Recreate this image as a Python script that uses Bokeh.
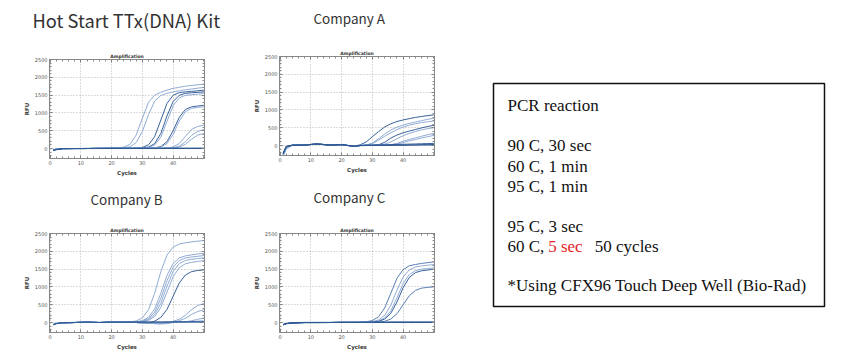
from bokeh.plotting import figure
from bokeh.layouts import row, column
from bokeh.models import Range1d, Title, LinearAxis, FixedTicker, Label
from bokeh.embed import file_html
from bokeh.resources import INLINE

# ---------------- data ----------------
cycles = [1, 2, 4, 8, 12, 16, 20, 24, 26, 28, 30, 32, 34, 36, 38, 40, 42, 44, 46, 48, 50]
x_ticks = [0, 10, 20, 30, 40]
y_ticks = [0, 500, 1000, 1500, 2000, 2500]

panel_titles = ["Hot Start TTx(DNA) Kit", "Company A", "Company B", "Company C"]
inner_title = "Amplification"
x_label = "Cycles"
y_label = "RFU"

# Hot Start TTx(DNA) Kit
hs_1 = [-40, -20, 0, 0, 0, 5, 10, 40, 120, 380, 850, 1300, 1500, 1580, 1640, 1690, 1720, 1750, 1770, 1790, 1810]
hs_2 = [-40, -20, 0, 0, 0, 5, 10, 15, 50, 170, 480, 950, 1330, 1490, 1550, 1590, 1620, 1650, 1670, 1695, 1715]
hs_3 = [-40, -20, 0, 0, 0, 5, 5, 5, 5, 10, 29, 104, 334, 800, 1266, 1496, 1571, 1590, 1605, 1620, 1640]
hs_4 = [-40, -20, 0, 0, 0, 5, 5, 5, 5, 10, 15, 40, 138, 422, 915, 1320, 1496, 1550, 1565, 1578, 1590]
hs_5 = [-40, -20, 0, 0, 0, 5, 5, 5, 5, 10, 10, 27, 99, 318, 760, 1202, 1421, 1493, 1510, 1527, 1543]
hs_6 = [-40, -20, 0, 0, 0, 5, 5, 5, 5, 5, 10, 10, 16, 56, 191, 500, 877, 1098, 1170, 1195, 1213]
hs_7 = [-40, -20, 0, 0, 0, 5, 5, 5, 5, 5, 10, 10, 15, 40, 139, 397, 773, 1031, 1130, 1155, 1170]
hs_8 = [-40, -20, 0, 0, 0, 5, 5, 5, 5, 5, 5, 10, 10, 10, 12, 44, 142, 340, 538, 620, 655]
hs_9 = [-40, -20, 0, 0, 0, 5, 5, 5, 5, 5, 5, 5, 10, 10, 10, 19, 67, 190, 370, 480, 531]
hs_10 = [-40, -20, 0, 0, 0, 5, 5, 5, 5, 5, 5, 5, 10, 10, 10, 10, 40, 121, 262, 378, 420]
hs_11 = [-50, -30, -5, 0, 0, 0, 5, 5, 5, 5, 5, 5, 5, 5, 10, 10, 10, 10, 10, 10, 10]
hs_12 = [-45, -25, -5, 0, 5, 5, 5, 5, 5, 5, 5, 5, 5, 5, 5, 5, 5, 5, 5, 5, 5]
hs_13 = [-60, -35, -10, -5, 0, 0, 0, 0, 0, 0, 0, 0, 0, 0, 0, 0, 0, 0, 0, 0, 0]
hs_curves = [hs_1, hs_2, hs_3, hs_4, hs_5, hs_6, hs_7, hs_8, hs_9, hs_10, hs_11, hs_12, hs_13]
hs_tones = ["light", "light", "dark", "dark", "light", "dark", "light", "light", "light", "light", "dark", "dark", "dark"]

# Company A
ca_1 = [-220, -30, 10, 15, 45, 15, 25, -20, 20, 100, 250, 390, 520, 610, 675, 718, 755, 790, 815, 840, 860]
ca_2 = [-280, -60, 10, 15, 40, 15, 25, -20, 0, 15, 70, 190, 320, 435, 515, 577, 620, 660, 700, 735, 767]
ca_3 = [-250, -40, 10, 15, 40, 15, 25, -20, 0, 10, 50, 150, 260, 355, 445, 520, 570, 610, 645, 670, 690]
ca_4 = [-230, -30, 10, 15, 45, 15, 25, -20, 0, 5, 5, 20, 90, 210, 295, 358, 405, 450, 495, 535, 568]
ca_5 = [-260, -50, 10, 15, 40, 15, 25, -20, 0, 5, 5, 15, 40, 100, 190, 275, 340, 395, 440, 475, 500]
ca_6 = [-270, -50, 10, 15, 40, 15, 25, -20, 0, 5, 5, 5, 15, 25, 60, 120, 170, 215, 260, 305, 341]
ca_7 = [-300, -100, 5, 15, 40, 15, 25, -20, 0, 5, 5, 5, 10, 20, 40, 85, 130, 170, 210, 250, 284]
ca_8 = [-230, -30, 10, 15, 45, 15, 25, -20, 0, 5, 5, 10, 10, 10, 15, 15, 20, 20, 25, 25, 30]
ca_9 = [-200, -20, 10, 15, 45, 15, 25, -20, 0, 10, 15, 20, 20, 25, 30, 35, 40, 45, 50, 55, 60]
ca_10 = [-240, -40, 5, 10, 40, 10, 20, -25, -5, 0, 0, 0, 0, 5, 5, 5, 10, 10, 15, 15, 20]
ca_curves = [ca_1, ca_2, ca_3, ca_4, ca_5, ca_6, ca_7, ca_8, ca_9, ca_10]
ca_tones = ["dark", "light", "light", "dark", "light", "light", "light", "dark", "dark", "dark"]

# Company B
cb_1 = [-60, -30, -10, 0, 10, 0, 10, 10, 16, 45, 130, 358, 821, 1429, 1892, 2120, 2205, 2240, 2265, 2285, 2302]
cb_2 = [-60, -30, -10, 0, 10, 0, 10, 10, 15, 25, 51, 144, 380, 819, 1324, 1662, 1815, 1872, 1900, 1925, 1945]
cb_3 = [-60, -30, -10, 0, 10, 0, 10, 10, 12, 20, 37, 107, 294, 675, 1175, 1556, 1743, 1813, 1840, 1860, 1880]
cb_4 = [-60, -30, -10, 0, 10, 0, 10, 10, 12, 18, 27, 81, 224, 542, 1019, 1432, 1654, 1743, 1775, 1795, 1815]
cb_5 = [-60, -30, -10, 0, 10, 0, 10, 10, 10, 15, 20, 58, 168, 424, 855, 1286, 1542, 1652, 1690, 1715, 1739]
cb_6 = [-60, -30, -10, 0, 10, 0, 10, 10, 5, 0, -10, -15, 40, 145, 367, 740, 1113, 1335, 1430, 1462, 1477]
cb_7 = [-60, -30, -10, 0, 10, 0, 10, 10, 5, 0, -10, -20, -30, -30, -20, 33, 91, 208, 362, 479, 536]
cb_8 = [-60, -30, -10, 0, 10, 0, 10, 10, 5, 0, -10, -20, -30, -40, -30, 10, 50, 121, 228, 310, 358]
cb_9 = [-60, -30, -10, 0, 10, 0, 10, 10, 5, 0, -10, -20, -30, -30, -20, 0, 10, 20, 50, 90, 124]
cb_10 = [-60, -30, -10, 0, 10, 0, 10, 10, 5, 0, -5, -10, -10, -10, -5, 0, 10, 20, 30, 40, 48]
cb_11 = [-60, -30, -10, 0, 10, 0, 10, 10, 10, 10, 10, 10, 10, 10, 15, 15, 15, 15, 15, 15, 15]
cb_12 = [-50, -25, -5, 5, 15, 5, 15, 15, 15, 15, 15, 15, 15, 15, 15, 20, 20, 20, 20, 20, 20]
cb_curves = [cb_1, cb_2, cb_3, cb_4, cb_5, cb_6, cb_7, cb_8, cb_9, cb_10, cb_11, cb_12]
cb_tones = ["light", "light", "light", "light", "light", "dark", "light", "light", "light", "light", "dark", "dark"]

# Company C
cc_1 = [-60, -30, -10, 0, 0, 0, 5, 5, 10, 20, 56, 162, 409, 825, 1241, 1488, 1594, 1630, 1660, 1682, 1702]
cc_2 = [-60, -30, -10, 0, 0, 0, 5, 5, 5, 10, 24, 72, 200, 485, 910, 1280, 1478, 1560, 1590, 1610, 1629]
cc_3 = [-60, -30, -10, 0, 0, 0, 5, 5, 5, 10, 15, 42, 128, 331, 696, 1094, 1348, 1456, 1499, 1518, 1534]
cc_4 = [-60, -30, -10, 0, 0, 0, 5, 5, 5, 5, 10, 32, 96, 258, 577, 978, 1266, 1402, 1453, 1475, 1497]
cc_5 = [-60, -30, -10, 0, 0, 0, 5, 5, 5, 5, 5, 12, 34, 98, 248, 500, 752, 902, 966, 988, 1000]
cc_6 = [-60, -30, -10, 0, 0, 0, 5, 5, 5, 5, 5, 5, 5, 10, 10, 10, 10, 10, 10, 10, 10]
cc_7 = [-50, -25, -5, 5, 5, 5, 10, 10, 10, 10, 10, 10, 10, 15, 15, 15, 15, 15, 15, 15, 15]
cc_8 = [-70, -35, -15, -5, -5, 0, 0, 0, 0, 0, 0, 0, 0, 0, 0, 0, 0, 0, 0, 0, 0]
cc_curves = [cc_1, cc_2, cc_3, cc_4, cc_5, cc_6, cc_7, cc_8]
cc_tones = ["mid", "light", "light", "dark", "mid", "dark", "dark", "dark"]

protocol_title = "PCR reaction"
protocol_lines = ["90 C, 30 sec", "60 C, 1 min", "95 C, 1 min", "95 C, 3 sec"]
cycle_step = ["60 C, ", "5 sec", "50 cycles"]
instrument_note = "*Using CFX96 Touch Deep Well (Bio-Rad)"

# ---------------- style ----------------
TONES = {"dark": "#2d5995", "mid": "#5077b0", "light": "#8aa7d2"}
TITLE_FONT = "Noto Sans CJK JP"
SMALL_FONT = "DejaVu Sans"
SERIF = "Liberation Serif"


def style_axis(ax, show_labels=True):
    ax.axis_line_color = "#888888"
    ax.major_tick_in = 3
    ax.major_tick_out = 0
    ax.minor_tick_in = 2
    ax.minor_tick_out = 0
    ax.major_tick_line_color = "#777777"
    ax.minor_tick_line_color = "#888888"
    if show_labels:
        ax.major_label_text_font = SMALL_FONT
        ax.major_label_text_font_size = "5px"
        ax.major_label_text_color = "#555555"
        ax.major_label_standoff = 2
        ax.axis_label_text_font = SMALL_FONT
        ax.axis_label_text_font_size = "5.5px"
        ax.axis_label_text_font_style = "bold"
        ax.axis_label_text_color = "#333333"
        ax.axis_label_standoff = 2
    else:
        ax.major_label_text_font_size = "0px"
        ax.major_label_text_color = None


def amp_panel(curves, tones, title, tsize, toffset, spacer, width, height, bleft, btop, bbottom):
    xt = FixedTicker(ticks=x_ticks, minor_ticks=list(range(0, 51, 2)))
    yt = FixedTicker(ticks=y_ticks, minor_ticks=list(range(-200, 2501, 100)))
    p = figure(width=width, height=height, x_range=Range1d(-0.2, 50.2), y_range=Range1d(-280, 2500),
               output_backend="svg", toolbar_location=None, title=None,
               min_border_left=bleft, min_border_right=34, min_border_top=btop, min_border_bottom=bbottom,
               x_axis_label=x_label, y_axis_label=y_label)
    p.xaxis.ticker = xt
    p.yaxis.ticker = yt
    p.yaxis.formatter.use_scientific = False
    for ax in p.xaxis + p.yaxis:
        style_axis(ax)
    top_ax = LinearAxis(ticker=FixedTicker(ticks=x_ticks, minor_ticks=list(range(0, 51, 2))))
    right_ax = LinearAxis(ticker=FixedTicker(ticks=y_ticks, minor_ticks=list(range(-200, 2501, 100))))
    style_axis(top_ax, False)
    style_axis(right_ax, False)
    p.add_layout(top_ax, "above")
    p.add_layout(right_ax, "right")
    p.xgrid.ticker = xt
    p.ygrid.ticker = yt
    p.grid.grid_line_color = "#b8b8b8"
    p.grid.grid_line_dash = "1 2"
    p.outline_line_color = "#888888"
    for ys, tone in zip(curves, tones):
        p.line(cycles, ys, line_color=TONES[tone], line_width=1.0, line_alpha=0.95)
    p.add_layout(Title(text=inner_title, text_font=SMALL_FONT, text_font_size="4.5px",
                       text_font_style="bold", text_color="#333333", align="center", standoff=1), "above")
    # empty spacer between the small and the big title
    p.add_layout(Title(text=" ", text_font_size="1px", standoff=spacer), "above")
    p.add_layout(Title(text=title, text_font=TITLE_FONT, text_font_size=tsize,
                       text_font_style="normal", text_color="#333333", align="left",
                       offset=toffset, standoff=4), "above")
    return p


p_hs = amp_panel(hs_curves, hs_tones, panel_titles[0], "18.3px", -17, 14, 238, 180, 49, 59, 22)
p_ca = amp_panel(ca_curves, ca_tones, panel_titles[1], "13.5px", 34, 16, 230, 180, 41, 56, 25)
p_cb = amp_panel(cb_curves, cb_tones, panel_titles[2], "13.5px", 41, 12, 238, 181, 49, 53, 29)
p_cc = amp_panel(cc_curves, cc_tones, panel_titles[3], "13.5px", 34, 14, 230, 181, 41, 53, 29)

# ---------------- protocol box ----------------
bx = figure(width=382, height=361, x_range=Range1d(0, 331), y_range=Range1d(0, 223),
            output_backend="svg", toolbar_location=None, title=None,
            x_axis_type=None, y_axis_type=None,
            min_border_left=25, min_border_right=26, min_border_top=83, min_border_bottom=55)
bx.grid.visible = False
bx.outline_line_color = "#111111"
bx.outline_line_width = 1.5


def box_text(x, y, t, color="#111111"):
    bx.add_layout(Label(x=x, y=y, text=t, text_font=SERIF, text_font_size="17px",
                        text_color=color, text_baseline="middle", text_align="left"))


box_text(14, 201, protocol_title)
for t, yy in zip(protocol_lines, [161, 140, 120, 80]):
    box_text(14, yy, t)
box_text(14, 60, cycle_step[0])
box_text(54.7, 60, cycle_step[1], "#e3241e")
box_text(101.3, 60, cycle_step[2])
box_text(14, 21, instrument_note)

layout = row(column(p_hs, p_cb), column(p_ca, p_cc), bx)

open("out.html", "w").write(file_html(layout, INLINE))
